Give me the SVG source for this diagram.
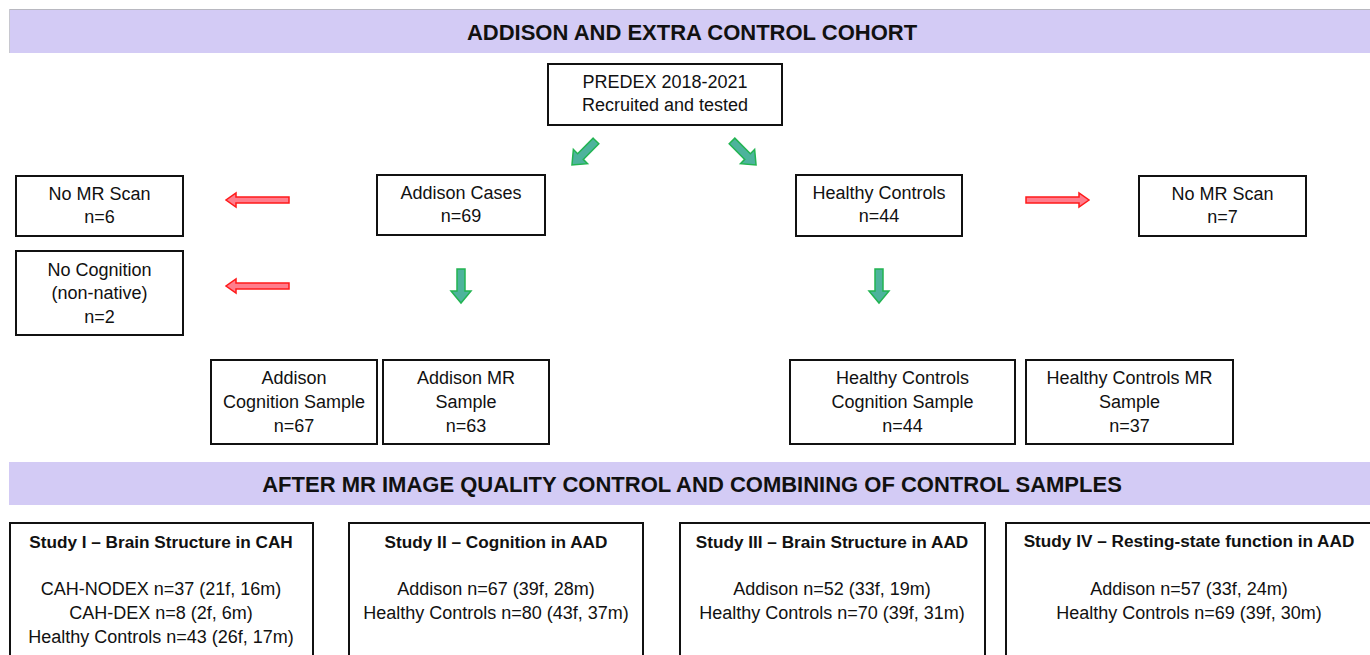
<svg xmlns="http://www.w3.org/2000/svg" width="1370" height="655" viewBox="0 0 1370 655">
  <style>
    text { font-family: "Liberation Sans", Arial, sans-serif; fill: #111; text-anchor: middle; dominant-baseline: central; }
    .t { font-size: 18px; }
    .h { font-size: 17.2px; font-weight: bold; }
    .banner-txt { font-size: 22px; font-weight: bold; }
    .box { fill: #fff; stroke: #111; stroke-width: 2; }
    .banner { fill: #d3cbf5; }
    .green { fill: #4db39c; stroke: #22b452; stroke-width: 1.5; stroke-linejoin: miter; }
    .red { fill: #ff7d8c; stroke: #ff1a1a; stroke-width: 1.5; }
  </style>
  <defs>
    <!-- down-pointing block arrow, origin at top centre of the shaft -->
    <polygon id="garrow" points="-4,0 4,0 4,22 10,22 0,34 -10,22 -4,22"/>
    <!-- right-pointing thin block arrow, origin at left centre of the shaft -->
    <polygon id="rarrow" points="0,-3 53,-3 53,-7 63,0 53,7 53,3 0,3"/>
  </defs>
  <rect width="1370" height="655" fill="#fff"/>

  <!-- section banners -->
  <g id="banner-top">
    <rect class="banner" x="9" y="9" width="1361" height="44"/>
    <line x1="9" y1="9.5" x2="1370" y2="9.5" stroke="#b8b8c0" stroke-width="1"/>
    <line x1="9.5" y1="9" x2="9.5" y2="53" stroke="#c8c8d0" stroke-width="1"/>
    <text class="banner-txt" x="692" y="32">ADDISON AND EXTRA CONTROL COHORT</text>
  </g>
  <g id="banner-bottom">
    <rect class="banner" x="9" y="462" width="1361" height="43"/>
    <text class="banner-txt" x="692" y="484">AFTER MR IMAGE QUALITY CONTROL AND COMBINING OF CONTROL SAMPLES</text>
  </g>

  <!-- connectors -->
  <g id="connectors">
    <use href="#garrow" class="green" transform="translate(596,141) rotate(45)"/>
    <use href="#garrow" class="green" transform="translate(732,141) rotate(-45)"/>
    <use href="#garrow" class="green" transform="translate(461,269)"/>
    <use href="#garrow" class="green" transform="translate(879,269)"/>
    <use href="#rarrow" class="red" transform="translate(289,200) rotate(180)"/>
    <use href="#rarrow" class="red" transform="translate(289,286) rotate(180)"/>
    <use href="#rarrow" class="red" transform="translate(1026,200)"/>
  </g>

  <!-- flow nodes -->
  <g id="predex">
    <rect class="box" x="548" y="64" width="234" height="61"/>
    <text class="t" x="665" y="82">PREDEX 2018-2021</text>
    <text class="t" x="665" y="105">Recruited and tested</text>
  </g>
  <g id="no-mr-left">
    <rect class="box" x="16" y="176" width="167" height="60"/>
    <text class="t" x="99.5" y="194">No MR Scan</text>
    <text class="t" x="99.5" y="217">n=6</text>
  </g>
  <g id="no-cognition">
    <rect class="box" x="16" y="251" width="167" height="84"/>
    <text class="t" x="99.5" y="270">No Cognition</text>
    <text class="t" x="99.5" y="293">(non-native)</text>
    <text class="t" x="99.5" y="317">n=2</text>
  </g>
  <g id="addison-cases">
    <rect class="box" x="377" y="175" width="168" height="60"/>
    <text class="t" x="461" y="193">Addison Cases</text>
    <text class="t" x="461" y="216">n=69</text>
  </g>
  <g id="healthy-controls">
    <rect class="box" x="796" y="175" width="166" height="61"/>
    <text class="t" x="879" y="193">Healthy Controls</text>
    <text class="t" x="879" y="216">n=44</text>
  </g>
  <g id="no-mr-right">
    <rect class="box" x="1139" y="176" width="167" height="60"/>
    <text class="t" x="1222.5" y="194">No MR Scan</text>
    <text class="t" x="1222.5" y="217">n=7</text>
  </g>
  <g id="addison-cognition">
    <rect class="box" x="211" y="360" width="166" height="84"/>
    <text class="t" x="294" y="378">Addison</text>
    <text class="t" x="294" y="402">Cognition Sample</text>
    <text class="t" x="294" y="426">n=67</text>
  </g>
  <g id="addison-mr">
    <rect class="box" x="383" y="360" width="166" height="84"/>
    <text class="t" x="466" y="378">Addison MR</text>
    <text class="t" x="466" y="402">Sample</text>
    <text class="t" x="466" y="426">n=63</text>
  </g>
  <g id="hc-cognition">
    <rect class="box" x="790" y="360" width="225" height="84"/>
    <text class="t" x="902.5" y="378">Healthy Controls</text>
    <text class="t" x="902.5" y="402">Cognition Sample</text>
    <text class="t" x="902.5" y="426">n=44</text>
  </g>
  <g id="hc-mr">
    <rect class="box" x="1026" y="360" width="207" height="84"/>
    <text class="t" x="1129.5" y="378">Healthy Controls MR</text>
    <text class="t" x="1129.5" y="402">Sample</text>
    <text class="t" x="1129.5" y="426">n=37</text>
  </g>

  <!-- study boxes (run past the bottom edge) -->
  <g id="study-1">
    <rect class="box" x="10" y="523" width="303" height="150"/>
    <text class="h" x="161" y="542">Study I – Brain Structure in CAH</text>
    <text class="t" x="161" y="589">CAH-NODEX n=37 (21f, 16m)</text>
    <text class="t" x="161" y="613">CAH-DEX n=8 (2f, 6m)</text>
    <text class="t" x="161" y="637">Healthy Controls n=43 (26f, 17m)</text>
  </g>
  <g id="study-2">
    <rect class="box" x="349" y="523" width="294" height="150"/>
    <text class="h" x="496" y="542">Study II – Cognition in AAD</text>
    <text class="t" x="496" y="589">Addison n=67 (39f, 28m)</text>
    <text class="t" x="496" y="613">Healthy Controls n=80 (43f, 37m)</text>
  </g>
  <g id="study-3">
    <rect class="box" x="680" y="523" width="305" height="150"/>
    <text class="h" x="832" y="542">Study III – Brain Structure in AAD</text>
    <text class="t" x="832" y="589">Addison n=52 (33f, 19m)</text>
    <text class="t" x="832" y="613">Healthy Controls n=70 (39f, 31m)</text>
  </g>
  <g id="study-4">
    <rect class="box" x="1006" y="523" width="380" height="150"/>
    <text class="h" x="1189" y="541">Study IV – Resting-state function in AAD</text>
    <text class="t" x="1189" y="589">Addison n=57 (33f, 24m)</text>
    <text class="t" x="1189" y="613">Healthy Controls n=69 (39f, 30m)</text>
  </g>
</svg>
